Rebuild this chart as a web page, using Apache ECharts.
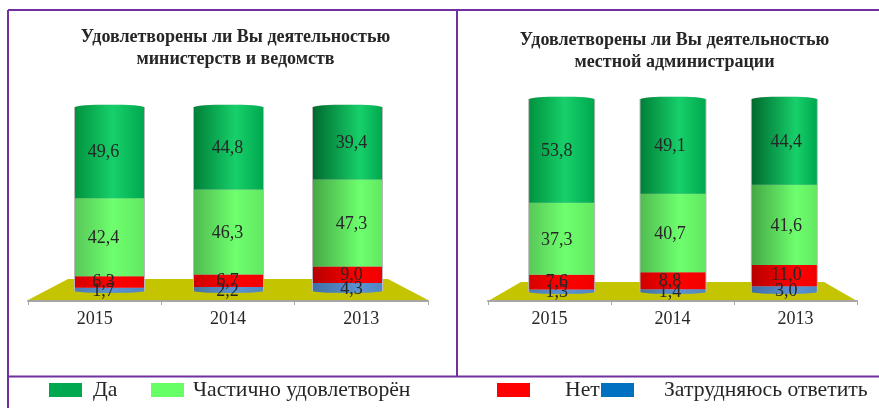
<!DOCTYPE html>
<html>
<head>
<meta charset="utf-8">
<script src="https://cdn.jsdelivr.net/npm/echarts@6/dist/echarts.min.js"></script>
<style>
  html, body { margin: 0; background: #fff; }
  #chart { width: 879px; height: 408px; }
</style>
</head>
<body>
<div id="chart"></div>
<script>
const years = ['2015', '2014', '2013']

const seriesNames = ['Да', 'Частично удовлетворён', 'Нет', 'Затрудняюсь ответить']
const legendColors = ['#00a850', '#66ff66', '#ff0000', '#0070c0']

const ministryYes = [49.6, 44.8, 39.4]
const ministryPartly = [42.4, 46.3, 47.3]
const ministryNo = [6.3, 6.7, 9.0]
const ministryUnsure = [1.7, 2.2, 4.3]

const localYes = [53.8, 49.1, 44.4]
const localPartly = [37.3, 40.7, 41.6]
const localNo = [7.6, 8.8, 11.0]
const localUnsure = [1.3, 1.4, 3.0]

const ministryTitle = 'Удовлетворены ли Вы деятельностью\nминистерств и ведомств'
const localTitle = 'Удовлетворены ли Вы деятельностью\nместной администрации'

const FONT = '"Liberation Serif", serif'
const TEXT = '#262626'

// тени цилиндра: левый край для каждого года, блик, правый край
const shades = [
  { left: ['#00933f', '#008038', '#006a2e'], mid: '#17d06a', right: '#00a84f' },
  { left: ['#58c858', '#50bc50', '#45a845'], mid: '#6eff6e', right: '#62e862' },
  { left: ['#d80000', '#d00000', '#b80000'], mid: '#ff0000', right: '#f00000' },
  { left: ['#4a7cb4', '#44749f', '#3f70a8'], mid: '#5b93d2', right: '#4f86c4' },
]
const highlight = [0.55, 0.6, 0.68]

function cylinder(shade, i) {
  return {
    type: 'linear', x: 0, y: 0, x2: 1, y2: 0,
    colorStops: [
      { offset: 0, color: shade.left[i] },
      { offset: highlight[i], color: shade.mid },
      { offset: 1, color: shade.right },
    ],
  }
}

// из-за перспективы подпись сдвинута относительно столбика
function stackSeries(name, values, shade, axisIndex, width, labelDx, labelDy) {
  return {
    name,
    type: 'bar',
    stack: 'total' + axisIndex,
    xAxisIndex: axisIndex,
    yAxisIndex: axisIndex,
    barWidth: width,
    data: values.map((value, i) => ({
      value,
      itemStyle: { color: cylinder(shade, i) },
      label: { offset: [labelDx[i], labelDy] },
    })),
    label: {
      show: true,
      position: 'inside',
      fontFamily: FONT,
      fontSize: 18,
      color: TEXT,
      formatter: p => p.value.toFixed(1).replace('.', ','),
    },
    z: 3,
  }
}

// верхний и нижний эллипсы цилиндра лежат под столбиком, видна только дуга
function capSeries(value, shade, axisIndex, width, height, border) {
  return {
    type: 'pictorialBar',
    xAxisIndex: axisIndex,
    yAxisIndex: axisIndex,
    symbol: 'circle',
    symbolPosition: 'end',
    symbolSize: [width, height],
    symbolOffset: [0, '-50%'],
    data: years.map((y, i) => ({
      value,
      itemStyle: { color: cylinder(shade, i), borderColor: border, borderWidth: border ? 1 : 0 },
    })),
    silent: true,
    z: 2,
  }
}

// тонкий серый контур по бокам цилиндра
function edgeSeries(axisIndex, width) {
  return {
    type: 'pictorialBar',
    xAxisIndex: axisIndex,
    yAxisIndex: axisIndex,
    symbol: 'rect',
    symbolPosition: 'start',
    symbolSize: [width + 2, '100%'],
    itemStyle: { color: '#b8b8b8' },
    data: years.map(() => 100),
    silent: true,
    z: 1,
  }
}

function chartSeries(groups, axisIndex, width, labelDx) {
  const labelDy = [0, 1, 0, 2]
  const stacked = [3, 2, 1, 0].map(k => stackSeries(seriesNames[k], groups[k], shades[k], axisIndex, width, labelDx, labelDy[k]))
  return [
    edgeSeries(axisIndex, width),
    capSeries(0, shades[3], axisIndex, width, 4),
    ...stacked,
    capSeries(100, shades[0], axisIndex, width, 5, '#b0b0b0'),
  ]
}

function floor(points) {
  return {
    type: 'polygon',
    shape: { points },
    style: { fill: '#c4c400' },
    z: 0,
  }
}

function frameLine(x1, y1, x2, y2) {
  return {
    type: 'line',
    shape: { x1, y1, x2, y2 },
    style: { stroke: '#7030a0', lineWidth: 2 },
    z: 0,
  }
}

function chartTitle(text, centerX, top) {
  return {
    text,
    left: centerX,
    top,
    textAlign: 'center',
    textStyle: {
      fontFamily: FONT,
      fontSize: 18,
      fontWeight: 'bold',
      color: TEXT,
      lineHeight: 21.5,
    },
  }
}

function legendItem(k, left, textGap) {
  return {
    data: [seriesNames[k]],
    left,
    top: 374,
    itemWidth: 33,
    itemHeight: 14,
    icon: 'rect',
    selectedMode: false,
    itemStyle: { color: legendColors[k] },
    textStyle: {
      fontFamily: FONT,
      fontSize: 21.7,
      color: TEXT,
      padding: [1, 0, 0, textGap],
    },
  }
}

function hiddenBarAxis(gridIndex) {
  return { type: 'category', data: years, gridIndex, show: false }
}

function frontAxis(gridIndex) {
  return {
    type: 'category',
    data: years,
    gridIndex,
    axisLine: { show: true, lineStyle: { color: '#a6a6a6', width: 2 } },
    axisTick: { show: true, length: 4, alignWithLabel: false, lineStyle: { color: '#a6a6a6' } },
    axisLabel: { fontFamily: FONT, fontSize: 18, color: TEXT, margin: 9 },
  }
}

function valueAxis(gridIndex, max) {
  return { type: 'value', gridIndex, min: 0, max, show: false }
}

const option = {
  animation: false,
  backgroundColor: '#fff',
  title: [
    chartTitle(ministryTitle, 230.5, 22),
    chartTitle(localTitle, 669.5, 25),
  ],
  legend: [
    legendItem(0, 44, 6),
    legendItem(1, 146, 4),
    legendItem(2, 492, 30),
    legendItem(3, 596, 25),
  ],
  graphic: [
    floor([[28, 300], [68, 279], [388, 279], [428, 300]]),
    floor([[488, 301], [521, 282], [824, 282], [857, 301]]),
    frameLine(8, 10, 879, 10),
    frameLine(8, 10, 8, 408),
    frameLine(457, 10, 457, 376),
    frameLine(8, 376.5, 879, 376.5),
  ],
  grid: [
    { left: 50, width: 357, top: 107, height: 184 },
    { left: 506, width: 334, top: 99, height: 193 },
    { left: 28, width: 400, top: 107, height: 194 },
    { left: 488, width: 369, top: 99, height: 202 },
  ],
  xAxis: [hiddenBarAxis(0), hiddenBarAxis(1), frontAxis(2), frontAxis(3)],
  yAxis: [valueAxis(0, 100), valueAxis(1, 100), valueAxis(2, 100), valueAxis(3, 100)],
  series: [
    ...chartSeries([ministryYes, ministryPartly, ministryNo, ministryUnsure], 0, 69, [-6, -1, 4]),
    ...chartSeries([localYes, localPartly, localNo, localUnsure], 1, 65, [-5, -3, 2]),
    // пустые серии, чтобы нижние оси с подписями отрисовались
    { type: 'bar', xAxisIndex: 2, yAxisIndex: 2, data: [], silent: true },
    { type: 'bar', xAxisIndex: 3, yAxisIndex: 3, data: [], silent: true },
  ],
}

const chart = echarts.init(document.getElementById('chart'))
chart.setOption(option)
</script>
</body>
</html>
